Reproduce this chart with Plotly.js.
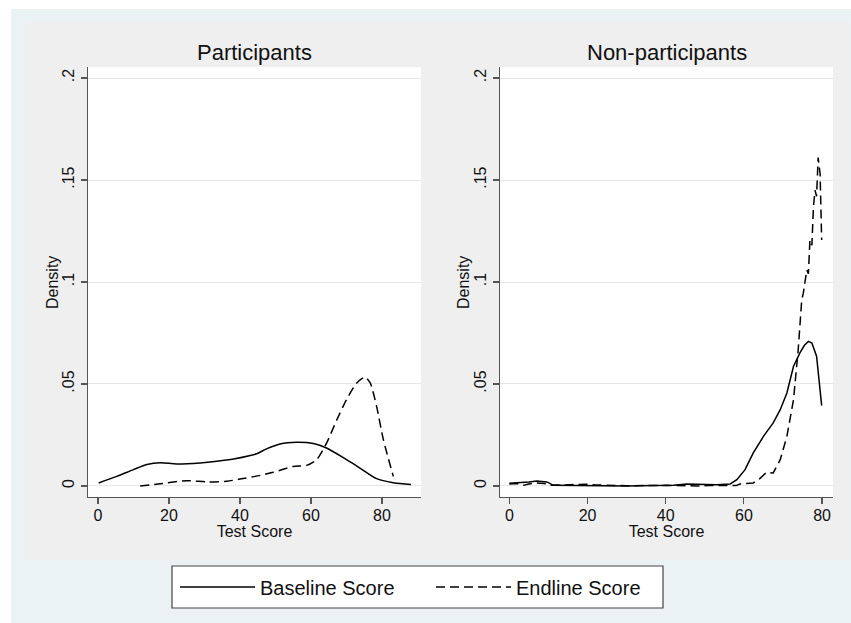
<!DOCTYPE html>
<html>
<head>
<meta charset="utf-8">
<script src="https://cdn.plot.ly/plotly-3.0.1.min.js"></script>
<style>html,body{margin:0;padding:0;background:#fff;}#chart{width:851px;height:623px;}</style>
</head>
<body>
<div id="chart"></div>
<script>
// ---- data ----
var panelTitles = ["Participants", "Non-participants"];
var seriesNames = ["Baseline Score", "Endline Score"];
var xTitle = "Test Score";
var yTitle = "Density";
var xTickVals = [0, 20, 40, 60, 80];
var yTickVals = [0, 0.05, 0.1, 0.15, 0.2];
var yTickText = ["0", ".05", ".1", ".15", ".2"];

var partBaseX = [0.2, 5.3, 10, 13.8, 17.5, 22.2, 28.8, 33.5, 38.2, 42.9, 44.7, 47.6, 51.3, 56, 60.7, 64.4, 70, 73.8, 78.5, 83.2, 88.2];
var partBaseY = [0.0015, 0.0047, 0.008, 0.0105, 0.0114, 0.0108, 0.0113, 0.0121, 0.0132, 0.0149, 0.0158, 0.0183, 0.0206, 0.0214, 0.0208, 0.0186, 0.0129, 0.0088, 0.0036, 0.0016, 0.0007];

var partEndX = [11.9, 17.5, 25, 30.7, 36.3, 40, 45.7, 49.4, 55, 58.8, 61.6, 64.4, 67.3, 70, 72.9, 75.2, 76.7, 78.5, 80.4, 83.2];
var partEndY = [0, 0.0011, 0.0026, 0.002, 0.0023, 0.0034, 0.0052, 0.0067, 0.0096, 0.0101, 0.0129, 0.021, 0.0325, 0.0423, 0.0505, 0.0534, 0.0505, 0.039, 0.0227, 0.0047];

var nonBaseX = [0, 2.7, 5, 7, 9.6, 11.3, 15, 19.8, 25, 30, 36.8, 42, 45.4, 49.6, 53, 56.5, 58.2, 60.3, 62.4, 65, 67.5, 69.3, 71, 72.7, 73.6, 74.4, 75.5, 76.5, 77.4, 78.6, 79.9];
var nonBaseY = [0.0013, 0.0015, 0.002, 0.0025, 0.002, 0.0003, 0.0002, 0, 0, 0, 0.0002, 0.0003, 0.001, 0.0008, 0.0006, 0.001, 0.0031, 0.008, 0.0162, 0.0243, 0.0309, 0.0374, 0.0456, 0.0587, 0.0625, 0.0655, 0.069, 0.0709, 0.0701, 0.0636, 0.0394];

var nonEndX = [0, 2, 3.5, 5, 7, 9, 10.5, 13, 17, 20, 22, 30, 40, 45, 48, 52, 56, 58, 59, 62.4, 64, 65.8, 67.5, 69.3, 71, 72.7, 73.9, 74.8, 75.2, 76.1, 76.5, 76.9, 77.4, 77.8, 78.2, 78.6, 79.0, 79.5, 79.9];
var nonEndY = [0.001, 0.0012, 0.0003, 0.001, 0.0015, 0.0012, 0.0003, 0.0004, 0.0007, 0.0009, 0.0005, 0.0001, 0.0003, 0.0002, 0.0, 0.0003, 0.0001, 0.0002, 0.001, 0.0015, 0.0035, 0.0067, 0.0064, 0.0129, 0.0243, 0.0423, 0.0668, 0.0912, 0.0945, 0.1059, 0.104, 0.1206, 0.118, 0.137, 0.145, 0.142, 0.161, 0.153, 0.1206];

// ---- figure ----
var W = 851, H = 623;
function px(x) { return x / W; }
function py(y) { return 1 - y / H; }
var FONT = "Liberation Sans, Arial, Helvetica, sans-serif";
var solid = {color: "#000", width: 1.5, dash: "solid"};
var dashed = {color: "#000", width: 1.5, dash: "9px,5px"};

var traces = [
  {x: partBaseX, y: partBaseY, xaxis: "x", yaxis: "y", mode: "lines", name: seriesNames[0], legendgroup: "b", line: Object.assign({shape: "spline", smoothing: 0.8}, solid)},
  {x: partEndX, y: partEndY, xaxis: "x", yaxis: "y", mode: "lines", name: seriesNames[1], legendgroup: "e", line: Object.assign({shape: "spline", smoothing: 0.6}, dashed)},
  {x: nonBaseX, y: nonBaseY, xaxis: "x2", yaxis: "y2", mode: "lines", name: seriesNames[0], legendgroup: "b", showlegend: false, line: solid},
  {x: nonEndX, y: nonEndY, xaxis: "x2", yaxis: "y2", mode: "lines", name: seriesNames[1], legendgroup: "e", showlegend: false, line: dashed}
];

function xAxis(domain, range, anchor) {
  return {
    domain: domain, range: range, anchor: anchor,
    tickmode: "array", tickvals: xTickVals,
    showgrid: false, zeroline: false,
    showline: true, linecolor: "#555", linewidth: 1.3,
    ticks: "outside", ticklen: 6, tickcolor: "#555", tickwidth: 1.2,
    ticklabelstandoff: -3,
    tickfont: {family: FONT, size: 16, color: "#111"},
    title: {text: xTitle, font: {family: FONT, size: 16, color: "#111"}, standoff: 2},
    fixedrange: true
  };
}
function yAxis(anchor) {
  return {
    domain: [py(497), py(67)], range: [-0.0054, 0.2054], anchor: anchor,
    tickmode: "array", tickvals: yTickVals, ticktext: yTickText, tickangle: -90,
    showgrid: true, gridcolor: "#e6e6e6", gridwidth: 1, zeroline: false,
    showline: true, linecolor: "#555", linewidth: 1.3,
    ticks: "outside", ticklen: 6, tickcolor: "#555", tickwidth: 1.2,
    tickfont: {family: FONT, size: 16, color: "#111"},
    fixedrange: true
  };
}

var layout = {
  width: W, height: H,
  margin: {l: 0, r: 0, t: 0, b: 0, pad: 0},
  paper_bgcolor: "#ffffff",
  plot_bgcolor: "#ffffff",
  font: {family: FONT, color: "#111"},
  xaxis: xAxis([px(88), px(421)], [-2.8, 91], "y"),
  yaxis: yAxis("x"),
  xaxis2: xAxis([px(500), px(833)], [-2.4, 82.8], "y2"),
  yaxis2: yAxis("x2"),
  shapes: [
    {type: "rect", xref: "paper", yref: "paper", x0: px(11), x1: 1, y0: 0, y1: py(9), fillcolor: "#eaf2f3", line: {width: 0}, layer: "below"},
    {type: "rect", xref: "paper", yref: "paper", x0: px(25), x1: px(850), y0: py(560), y1: py(22), fillcolor: "#efefef", line: {width: 0}, layer: "below"},
    {type: "rect", xref: "x domain", yref: "y domain", x0: 0, x1: 1, y0: 0, y1: 1, fillcolor: "#ffffff", line: {width: 0}, layer: "below"},
    {type: "rect", xref: "x2 domain", yref: "y2 domain", x0: 0, x1: 1, y0: 0, y1: 1, fillcolor: "#ffffff", line: {width: 0}, layer: "below"},
    {type: "rect", xref: "paper", yref: "paper", x0: px(172), x1: px(663), y0: py(608), y1: py(566), fillcolor: "#ffffff", line: {width: 1.2, color: "#444"}, layer: "below"}
  ],
  annotations: [
    {text: panelTitles[0], xref: "x domain", yref: "paper", x: 0.5, y: py(52), xanchor: "center", yanchor: "middle", showarrow: false, font: {family: FONT, size: 22, color: "#111"}},
    {text: panelTitles[1], xref: "x2 domain", yref: "paper", x: 0.5, y: py(52), xanchor: "center", yanchor: "middle", showarrow: false, font: {family: FONT, size: 22, color: "#111"}},
    {text: yTitle, xref: "paper", yref: "paper", x: px(52), y: py(283), xanchor: "center", yanchor: "middle", textangle: -90, showarrow: false, font: {family: FONT, size: 16, color: "#111"}},
    {text: yTitle, xref: "paper", yref: "paper", x: px(463), y: py(283), xanchor: "center", yanchor: "middle", textangle: -90, showarrow: false, font: {family: FONT, size: 16, color: "#111"}}
  ],
  showlegend: true,
  legend: {
    orientation: "h", x: px(175), y: py(587), xanchor: "left", yanchor: "middle",
    bgcolor: "rgba(0,0,0,0)", borderwidth: 0,
    font: {family: FONT, size: 20, color: "#111"},
    itemwidth: 75, entrywidth: 166, entrywidthmode: "pixels",
    traceorder: "normal", itemclick: false, itemdoubleclick: false
  }
};

Plotly.newPlot("chart", traces, layout, {staticPlot: true, displayModeBar: false});
</script>
</body>
</html>
